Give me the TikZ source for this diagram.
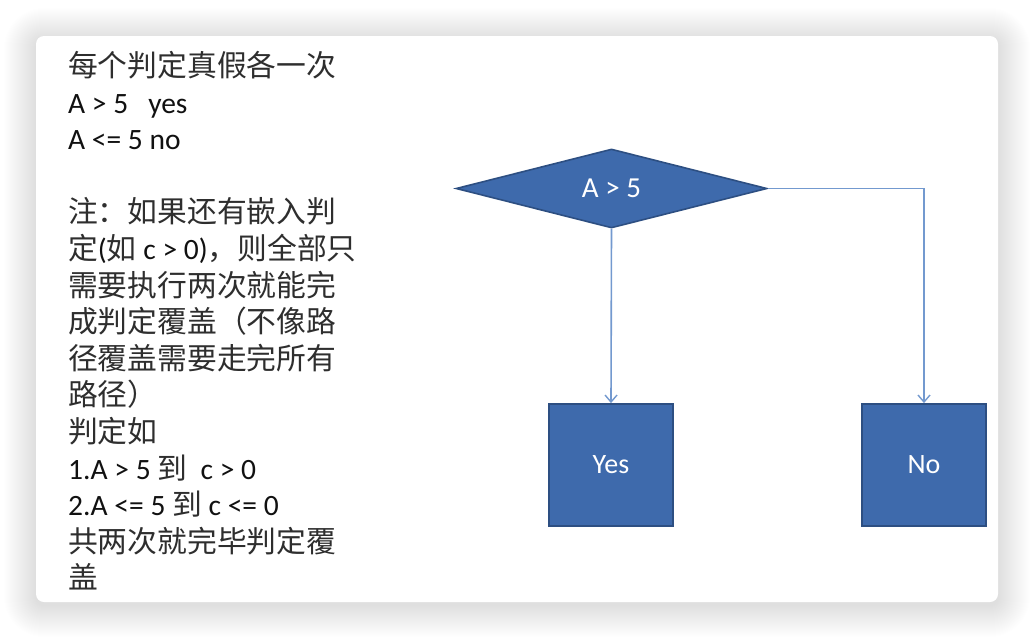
\documentclass[tikz,border=0pt]{standalone}
\usepackage{fontspec}
\setmainfont{Carlito}
\newfontfamily\cjk{Noto Sans CJK SC}[Scale=1.01,Color=2E2E2E]
\usetikzlibrary{shapes.geometric,arrows.meta}

\definecolor{boxfill}{HTML}{3E6AAC}
\definecolor{boxedge}{HTML}{2D4F82}
\definecolor{flow}{HTML}{7399CF}
\definecolor{inktext}{HTML}{111111}

\tikzset{
  note/.style={anchor=base west, inner sep=0pt, text=inktext,
    font=\fontsize{29.5}{32}\selectfont},
  decision/.style={diamond, draw=boxedge, fill=boxfill, line width=1.6pt,
    minimum width=311pt, minimum height=79pt, inner sep=0pt,
    text=white, font=\fontsize{29}{32}\selectfont},
  outcome/.style={rectangle, draw=boxedge, fill=boxfill, line width=1.8pt,
    minimum width=124pt, minimum height=122pt, inner sep=0pt,
    text=white, font=\fontsize{28}{32}\selectfont},
  flowline/.style={draw=flow, line width=1.6pt,
    -{Straight Barb[length=7pt,width=12pt,line width=1.4pt]}},
}

\begin{document}
\begin{tikzpicture}[x=1pt,y=-1pt]
\useasboundingbox (0,0) rectangle (1034,638);
\fill[white] (0,0) rectangle (1034,638);

% soft drop shadow behind the card, fading outwards
\foreach \i in {1,...,32}
  \fill[black,opacity=0.0055,rounded corners={8pt+\i pt}]
    (36-\i,40-\i) rectangle (998+\i,605+\i);

% card
\fill[white,rounded corners=8pt] (36,36) rectangle (998,602);

% explanatory notes
\def\lx{68}
\node[note] (n1)  at (\lx, 76.5)  {\cjk 每个判定真假各一次};
\node[note] (n2)  at (\lx,113.1)  {A > 5 \ \ yes};
\node[note] (n3)  at (\lx,149.7)  {A <= 5 no};
\node[note] (n5)  at (\lx,222.9)  {{\cjk 注：如果还有嵌入判}};
\node[note] (n6)  at (\lx,259.5)  {{\cjk 定}({\cjk 如} c > 0){\cjk ，则全部只}};
\node[note] (n7)  at (\lx,296.1)  {\cjk 需要执行两次就能完};
\node[note] (n8)  at (\lx,332.7)  {\cjk 成判定覆盖（不像路};
\node[note] (n9)  at (\lx,369.3)  {\cjk 径覆盖需要走完所有};
\node[note] (n10) at (\lx,405.9)  {\cjk 路径）};
\node[note] (n11) at (\lx,442.5)  {\cjk 判定如};
\node[note] (n12) at (\lx,479.1)  {1.A > 5 {\cjk 到} \ c > 0};
\node[note] (n13) at (\lx,515.7)  {2.A <= 5 {\cjk 到} c <= 0};
\node[note] (n14) at (\lx,552.3)  {\cjk 共两次就完毕判定覆};
\node[note] (n15) at (\lx,588.9)  {\cjk 盖};

% flow chart
\node[decision] (dec) at (611.5,188.5) {A > 5};
\node[outcome]  (yes) at (611,465)     {Yes};
\node[outcome]  (no)  at (924,465)     {No};

\draw[flowline] (dec.south) -- (yes.north);
\draw[flowline] (dec.east) -| (no.north);
\end{tikzpicture}
\end{document}
